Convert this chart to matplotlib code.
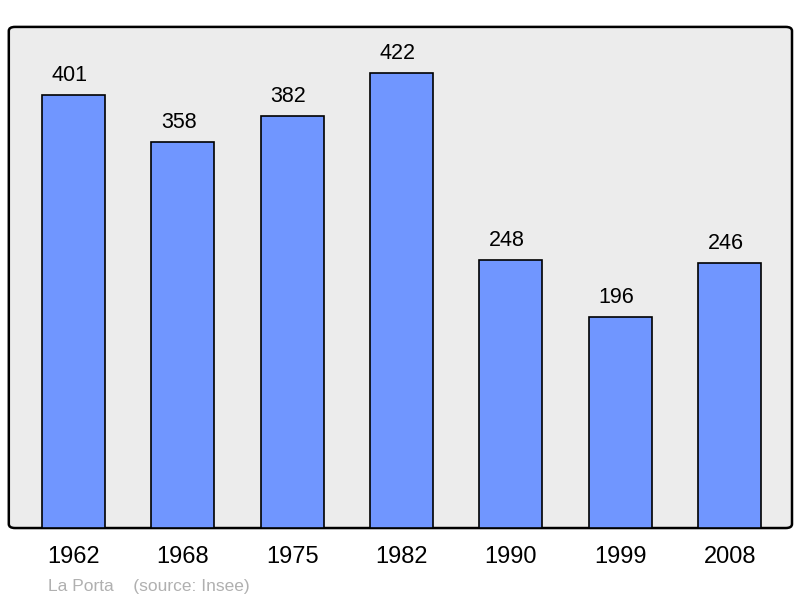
import matplotlib
matplotlib.use('Agg')
import matplotlib.pyplot as plt
from matplotlib.patches import FancyBboxPatch

years  = ['1962', '1968', '1975', '1982', '1990', '1999', '2008']
values = [401, 358, 382, 422, 248, 196, 246]

plt.rcParams['font.family'] = ['Liberation Sans', 'DejaVu Sans']

fig = plt.figure(figsize=(8, 5.98), dpi=100)
ax = fig.add_axes([0.011, 0.117, 0.979, 0.838])

x = range(len(years))
ax.bar(x, values, width=0.576, color='#7096ff', edgecolor='black', linewidth=1.2, zorder=3)
for xi, v in zip(x, values):
    # labels sit a little left of the bar centre in the original
    ax.annotate(str(v), (xi, v), xytext=(-3, 6.5), textcoords='offset points',
                ha='center', va='bottom', fontsize=15.5)

ax.set_xlim(-0.59, 6.57)
ax.set_ylim(0, 464.5)
ax.set_xticks(list(x))
ax.set_xticklabels(years, fontsize=17)
ax.tick_params(axis='x', length=0, pad=13)
ax.set_yticks([])
for s in ax.spines.values():
    s.set_visible(False)
ax.patch.set_visible(False)

frame = FancyBboxPatch((0, 0), 1, 1, boxstyle='round,pad=0,rounding_size=0.008',
                       transform=ax.transAxes, facecolor='#ececec', edgecolor='black',
                       linewidth=1.8, zorder=0, clip_on=False)
ax.add_patch(frame)

fig.text(0.06, 0.012, 'La Porta    (source: Insee)', fontsize=12.5, color='#b0b0b0')

fig.savefig('out.png', dpi=100, facecolor='white')
